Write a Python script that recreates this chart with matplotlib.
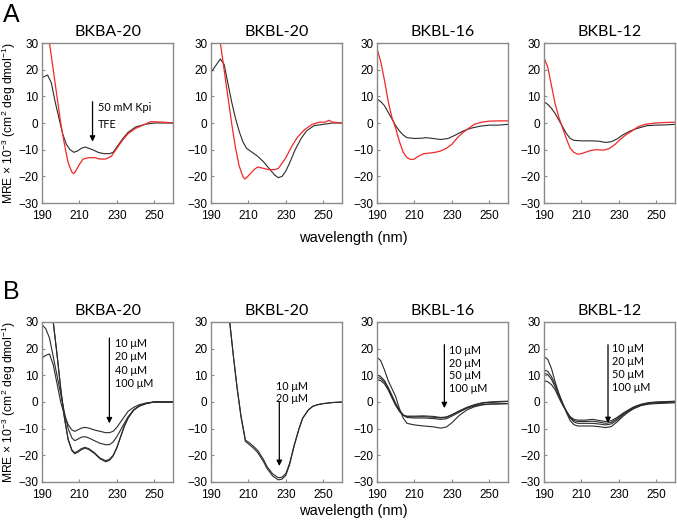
"""CD spectra: BKBA/BKBL peptides in Kpi vs TFE (A) and concentration series (B)."""
import matplotlib
matplotlib.use("Agg")
import matplotlib.pyplot as plt
import numpy as np

plt.rcParams["mathtext.fontset"] = "custom"
plt.rcParams["mathtext.rm"] = "Liberation Sans"
plt.rcParams["mathtext.it"] = "Liberation Sans:italic"

TITLES = ["BKBA-20", "BKBL-20", "BKBL-16", "BKBL-12"]
XTICKS = [190, 210, 230, 250]
YTICKS = [-30, -20, -10, 0, 10, 20, 30]

# ---- panel A: 50 mM Kpi (black) vs TFE (red) ----
a_kpi = [
    ([190, 193, 195, 197, 199, 201, 203, 205, 207, 209, 211, 213, 215, 217, 220, 223, 226, 228, 230, 233, 236, 240, 245, 250, 260],
     [17, 18, 15, 8, 2, -4, -8, -10, -11, -10.5, -9.5, -9, -9.5, -10, -11, -11.5, -11.5, -11, -9, -6, -3.5, -1.5, -0.5, 0, 0]),
    ([190, 193, 195, 197, 199, 201, 203, 205, 207, 209, 212, 215, 218, 221, 224, 226, 228, 230, 232, 235, 238, 241, 245, 250, 255, 260],
     [19, 22, 24, 22, 15, 8, 2, -3, -7, -9.5, -11, -12.5, -14.5, -17, -19.5, -20.5, -20, -18, -15, -10, -6, -3, -1, -0.5, 0, 0]),
    ([190, 192, 194, 196, 198, 200, 202, 204, 206, 210, 214, 216, 220, 224, 228, 232, 236, 240, 245, 250, 255, 260],
     [9, 8, 6.5, 4, 1.5, -1, -3, -4.5, -5.5, -5.8, -5.7, -5.5, -5.8, -6.2, -5.8, -4.5, -3, -2, -1.2, -0.8, -0.8, -0.5]),
    ([190, 192, 194, 196, 198, 200, 202, 204, 206, 210, 215, 219, 223, 226, 229, 232, 236, 240, 245, 250, 255, 260],
     [8, 7, 5.5, 3.5, 1, -1.5, -4, -5.8, -6.5, -6.7, -6.7, -6.8, -7.3, -7, -6, -4.5, -3, -2, -1, -0.8, -0.7, -0.5]),
]
a_tfe = [
    ([190, 192, 194, 196, 198, 200, 202, 204, 206, 207, 208, 210, 212, 215, 218, 221, 224, 227, 230, 233, 236, 240, 245, 248, 255, 260],
     [50, 40, 30, 20, 10, 0, -8, -15, -18.5, -19, -18, -15.5, -13.5, -13, -13, -13.5, -13.5, -12.5, -9.5, -6.5, -4, -2, -0.5, 0.5, 0.3, 0]),
    ([190, 193, 195, 197, 199, 201, 203, 205, 207, 208, 209, 211, 213, 215, 218, 221, 224, 226, 228, 230, 233, 236, 240, 244, 248, 251, 253, 255, 260],
     [55, 42, 30, 20, 10, 0, -9, -16, -20, -21, -20.5, -19, -17.5, -16.5, -17, -17.5, -17.5, -17, -15, -13, -9, -5.5, -2.5, -0.5, 0.3, 0.3, 1, 0.3, 0]),
    ([190, 192, 194, 196, 198, 200, 202, 204, 206, 208, 210, 212, 215, 218, 221, 224, 227, 230, 233, 236, 239, 242, 246, 250, 255, 260],
     [28, 23, 16, 8, 2, -2, -7, -11, -13, -13.7, -13.5, -12.5, -11.5, -11.3, -11, -10.5, -9.5, -8, -5.5, -3.5, -2, -0.5, 0.3, 0.7, 0.8, 0.8]),
    ([190, 192, 194, 196, 198, 200, 202, 204, 206, 208, 210, 212, 215, 218, 222, 225, 228, 231, 234, 237, 240, 244, 250, 255, 260],
     [24.5, 21, 14, 7, 2, -2, -6, -9.5, -11, -11.7, -11.5, -11, -10.3, -10, -10.2, -9.5, -8, -6, -4.3, -3, -1.5, -0.5, 0, 0.2, 0.3]),
]

# ---- panel B: concentration series ----
bkba20_wl = [190, 192, 194, 196, 198, 200, 202, 204, 206, 207.5, 209, 211, 213, 215, 218, 221, 224, 226, 228, 230, 232, 234, 236, 239, 242, 246, 250, 260]
bkba20 = [
    [16.5, 17.5, 18, 14, 7, 0, -5, -8.5, -10.5, -11, -10.5, -9.8, -9.5, -9.8, -10.5, -11, -11.5, -11.5, -11, -9.5, -7.5, -5.5, -3.5, -2, -1, -0.3, 0, 0],
    [29, 27.5, 24, 17, 10, 3, -4, -10, -13.5, -14.5, -14, -13.2, -13, -13.5, -14.5, -15.5, -16, -16, -15, -13, -10.5, -8, -5.5, -3, -1.5, -0.5, 0, 0],
    [48, 44, 40, 30, 18, 5, -6, -14, -18, -19, -18.5, -17.5, -17, -17.5, -19, -21, -22, -21.5, -20, -17, -13, -9, -6, -3, -1.5, -0.5, 0, 0],
    [48, 44, 40, 30, 18, 5, -6, -14.2, -18.3, -19.4, -18.9, -17.9, -17.3, -17.8, -19.3, -21.3, -22.4, -21.9, -20.3, -17.2, -13.1, -9.1, -6, -3, -1.5, -0.5, 0, 0],
]
bkbl20_wl = [190, 196, 198, 200, 202, 204, 206, 208.4, 210.5, 213, 215, 218, 220, 223, 226, 228, 230, 232, 234.5, 237, 239, 242, 244.4, 247, 250, 255, 260]
bkbl20 = [
    [80, 50, 40, 30, 17, 5, -5, -14.3, -15.3, -16.8, -18.2, -21.5, -24.3, -27, -28.4, -28.2, -26.8, -23, -16, -10, -6, -3, -1.6, -1, -0.6, -0.2, 0],
    [80, 50, 40, 30, 17, 5, -5.5, -14.8, -16, -17.5, -19, -22.3, -25, -27.8, -29.2, -28.9, -27.5, -23.5, -16.3, -10.2, -6.1, -3, -1.6, -1, -0.6, -0.2, 0],
]
bkbl16_wl = [190, 192, 194, 196, 198, 200, 202, 204, 206, 210, 215, 220, 224, 227, 230, 234, 238, 242, 246, 250, 255, 260]
bkbl16 = [
    [10.2, 9.5, 8, 5.5, 2.5, -0.5, -3, -4.8, -5.5, -5.6, -5.5, -5.7, -6, -5.8, -4.8, -3.3, -2, -1, -0.3, 0, 0.2, 0.3],
    [9.3, 8.8, 7.5, 5, 2, -1, -3.5, -5, -5.8, -6, -6, -6.2, -6.5, -6.3, -5.3, -3.8, -2.3, -1.3, -0.5, -0.2, 0, 0.2],
    [8.4, 8, 6.8, 4.5, 1.5, -1.3, -3.5, -5, -5.3, -5.3, -5.2, -5.4, -5.8, -5.6, -4.8, -3.5, -2.3, -1.5, -1, -0.8, -0.7, -0.6],
    [16.8, 15.5, 12, 8, 5, 2, -2.5, -6, -8, -8.6, -9, -9.3, -9.8, -9.4, -7.8, -5, -3, -1.8, -1.1, -0.8, -0.7, -0.6],
]
bkbl12_wl = [190, 192, 194, 196, 198, 200, 202, 204, 206, 208, 212, 216, 220, 223, 226, 229, 232, 235, 238, 242, 246, 250, 260]
bkbl12 = [
    [17, 16, 12.5, 7.5, 3, -0.5, -4, -7, -8.5, -9, -9, -9, -9.3, -9.6, -9.2, -7.5, -5.5, -3.8, -2.5, -1.3, -0.8, -0.6, -0.3],
    [12, 11.5, 9.5, 6.5, 3, -0.5, -3.5, -6, -7.5, -8, -8, -8, -8.3, -8.6, -8.2, -6.8, -5, -3.5, -2.3, -1.2, -0.6, -0.3, 0],
    [10.8, 10.3, 8.5, 5.5, 2.3, -1, -3.5, -5.8, -7, -7.3, -7.3, -7.2, -7.6, -8, -7.6, -6.3, -4.6, -3.2, -2, -1, -0.4, -0.1, 0.2],
    [8, 7.6, 6.5, 4.5, 1.5, -1.2, -3.5, -5.5, -6.5, -6.8, -6.8, -6.5, -7, -7.3, -7, -5.8, -4.3, -3, -1.8, -0.8, -0.2, 0, 0.3],
]
b_series = [(bkba20_wl, bkba20), (bkbl20_wl, bkbl20), (bkbl16_wl, bkbl16), (bkbl12_wl, bkbl12)]

# arrows: (x, y_start, y_end), labels: (x, y_first, step, lines)
a_arrow = (217, 8, -7)
a_labels = (220, 5.7, 6.2, ["50 mM Kpi", "TFE"])
b_arrows = [(226, 24, -8), (226.5, 0, -24), (226, 21.5, -2.3), (224.2, 21.5, -7.9)]
b_labels = [
    (229, 22, 5, ["10 \u03bcM", "20 \u03bcM", "40 \u03bcM", "100 \u03bcM"]),
    (225, 6, 4.6, ["10 \u03bcM", "20 \u03bcM"]),
    (228.3, 19.4, 4.8, ["10 \u03bcM", "20 \u03bcM", "50 \u03bcM", "100 \u03bcM"]),
    (226.5, 19.9, 4.8, ["10 \u03bcM", "20 \u03bcM", "50 \u03bcM", "100 \u03bcM"]),
]

BLACK = "#2b2b2b"
RED = "#f02828"
FRAME = "#8a8a8a"
LEFTS = [42, 211, 377, 544]
W, H = 677, 524


def style_axes(ax, first):
    ax.set_xlim(190, 260)
    ax.set_ylim(-30, 30)
    ax.set_xticks(XTICKS)
    ax.set_yticks(YTICKS)
    for s in ax.spines.values():
        s.set_color(FRAME)
        s.set_linewidth(1.0)
    ax.tick_params(direction="in", length=2.5, width=0.8, color=FRAME, pad=2.5,
                   labelsize=8.5)
    ax.tick_params(axis="x", pad=5)
    for lab in ax.get_xticklabels() + ax.get_yticklabels():
        lab.set_fontfamily("Liberation Sans")
    if first:
        ax.set_ylabel(r"MRE $\times$ 10$^{-3}$ (cm$^{2}$ deg dmol$^{-1}$)",
                      family="Liberation Sans", fontsize=8.7)
        ax.yaxis.set_label_coords(-0.185, 0.5)


def add_arrow(ax, arrow, labels):
    x, y0, y1 = arrow
    ax.annotate("", xy=(x, y1), xytext=(x, y0),
                arrowprops=dict(arrowstyle="-|>", color="black", lw=0.9,
                                mutation_scale=8, shrinkA=0, shrinkB=0))
    lx, ly, step, lines = labels
    for i, t in enumerate(lines):
        ax.text(lx, ly - i * step, t, family="Lato", fontsize=7.8,
                ha="left", va="center")


fig = plt.figure(figsize=(W / 100, H / 100), dpi=100)

for row, (top, bottom) in enumerate([(43, 203), (322, 482)]):
    for i, left in enumerate(LEFTS):
        ax = fig.add_axes([left / W, 1 - bottom / H, 131 / W, (bottom - top) / H])
        style_axes(ax, i == 0)
        ax.set_title(TITLES[i], family="Lato", fontsize=11.5, pad=5)
        if row == 0:
            kx, ky = a_kpi[i]
            tx, ty = a_tfe[i]
            ax.plot(kx, ky, color=BLACK, lw=0.8)
            ax.plot(tx, ty, color=RED, lw=0.9)
            if i == 0:
                add_arrow(ax, a_arrow, a_labels)
        else:
            wl, curves = b_series[i]
            for c in curves:
                ax.plot(wl, c, color=BLACK, lw=0.8)
            add_arrow(ax, b_arrows[i], b_labels[i])

for y in (238, 511):
    fig.text(353 / W, 1 - y / H, "wavelength (nm)", family="Liberation Sans",
             fontsize=10.5, ha="center", va="center")
fig.text(3 / W, 1 - 15 / H, "A", family="Liberation Sans", fontsize=18,
         ha="left", va="center")
fig.text(3 / W, 1 - 292 / H, "B", family="Liberation Sans", fontsize=18,
         ha="left", va="center")

fig.savefig("out.png", dpi=100)
